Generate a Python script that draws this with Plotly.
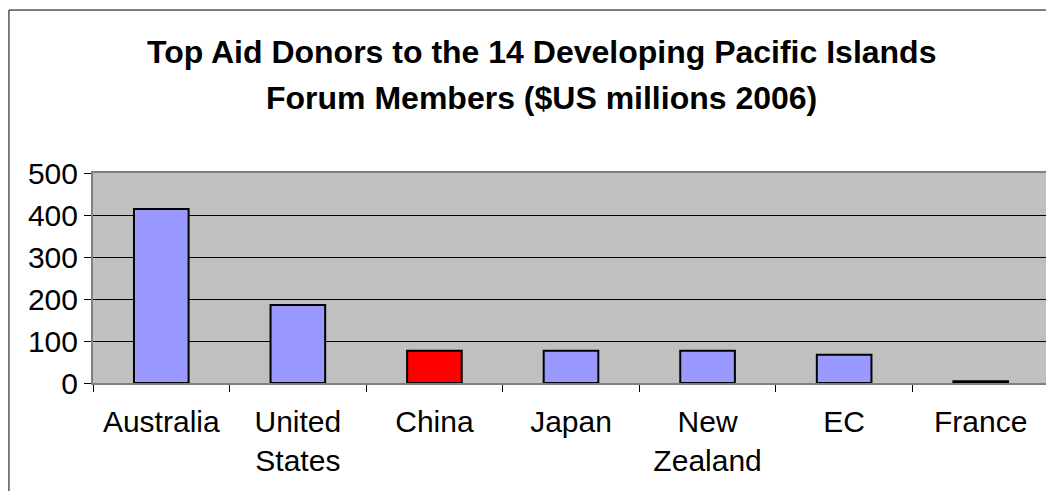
import plotly.graph_objects as go

donors = ["Australia", "United<br>States", "China", "Japan", "New<br>Zealand", "EC", "France"]
aid_musd = [414, 186, 77, 77, 77, 67, 4]
bar_colors = ["#9999FF", "#9999FF", "#FF0000", "#9999FF", "#9999FF", "#9999FF", "#9999FF"]
y_ticks = [0, 100, 200, 300, 400, 500]
title_lines = [
    "Top Aid Donors to the 14 Developing Pacific Islands",
    "Forum Members ($US millions 2006)",
]

FONT = "Liberation Sans, Arial, sans-serif"

fig = go.Figure(
    go.Bar(
        x=donors,
        y=aid_musd,
        width=0.4,
        marker=dict(color=bar_colors, line=dict(color="black", width=2)),
    )
)

# page body has an 8px margin, so the figure is drawn a little smaller
fig.update_layout(
    width=1046,
    height=483,
    margin=dict(l=85, r=5, t=165, b=108, autoexpand=False),
    paper_bgcolor="white",
    plot_bgcolor="#C0C0C0",
    showlegend=False,
    font=dict(family=FONT, size=30, color="black"),
    bargap=0.6,
)

# two-line bold title
for line, ypos in zip(title_lines, [1.574, 1.355]):
    fig.add_annotation(
        text=f"<b>{line}</b>",
        xref="paper", yref="paper",
        x=0.469, y=ypos,
        xanchor="center", yanchor="middle",
        showarrow=False,
        font=dict(family=FONT, size=32, color="black"),
    )

fig.update_yaxes(
    range=[0, 500],
    tickvals=y_ticks,
    automargin=False,
    showgrid=True,
    gridcolor="black",
    gridwidth=1,
    zeroline=False,
    showline=True,
    linecolor="#808080",
    linewidth=2,
    mirror=True,
    ticks="outside",
    ticklen=7,
    tickcolor="black",
)

fig.update_xaxes(
    automargin=False,
    showgrid=False,
    showline=True,
    linecolor="#808080",
    linewidth=2,
    mirror=True,
    ticks="outside",
    tickson="boundaries",
    ticklen=7,
    tickcolor="black",
    ticklabelstandoff=11,
)

# chart frame
fig.add_shape(
    type="rect",
    xref="paper",
    yref="paper",
    x0=-0.0879,
    x1=1.2,
    y0=-1.0,
    y1=1.776,
    line=dict(color="black", width=1),
    fillcolor="rgba(0,0,0,0)",
    layer="below",
)

fig.write_html("out.html")
